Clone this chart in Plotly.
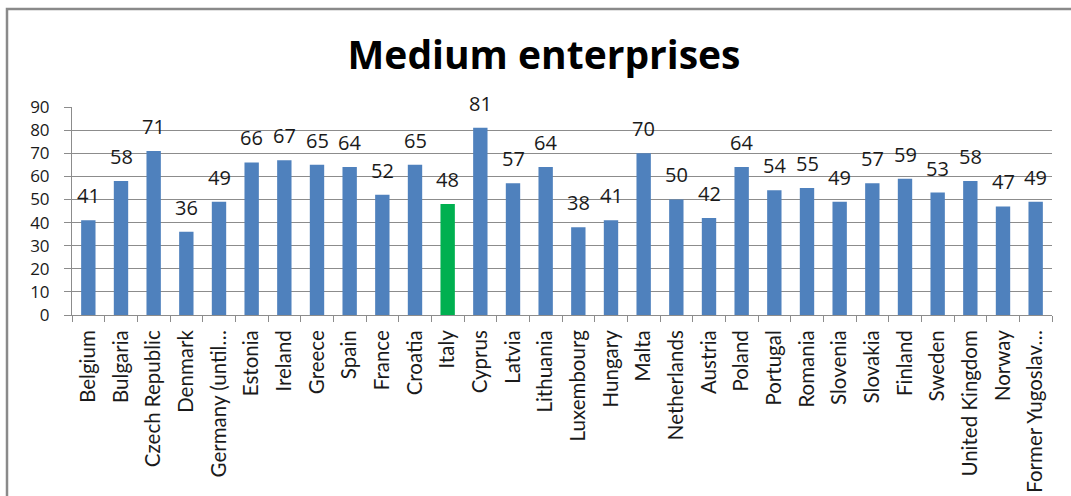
import plotly.graph_objects as go

countries = ["Belgium", "Bulgaria", "Czech Republic", "Denmark", "Germany (until…",
             "Estonia", "Ireland", "Greece", "Spain", "France", "Croatia", "Italy",
             "Cyprus", "Latvia", "Lithuania", "Luxembourg", "Hungary", "Malta",
             "Netherlands", "Austria", "Poland", "Portugal", "Romania", "Slovenia",
             "Slovakia", "Finland", "Sweden", "United Kingdom", "Norway", "Former Yugoslav…"]
values = [41, 58, 71, 36, 49, 66, 67, 65, 64, 52, 65, 48, 81, 57, 64, 38, 41, 70,
          50, 42, 64, 54, 55, 49, 57, 59, 53, 58, 47, 49]
highlight = "Italy"
y_ticks = [0, 10, 20, 30, 40, 50, 60, 70, 80, 90]

BLUE = "#4F81BD"
GREEN = "#00B050"
GRID = "#8C8C8C"

colors = [GREEN if c == highlight else BLUE for c in countries]

fig = go.Figure()
fig.add_trace(go.Bar(x=countries, y=values, marker=dict(color=colors, line=dict(width=0)),
                     width=0.44, hoverinfo="x+y"))

for c, v in zip(countries, values):
    fig.add_annotation(x=c, y=v, text=str(v), showarrow=False, yanchor="bottom",
                       yshift=9, font=dict(family="Open Sans", size=20, color="#1a1a1a"))

L, R, T, B = 72, 1052, 107, 315
W, H = R - L, B - T
def px(x):
    return (x - L) / W
def py(y):
    return (B - y) / H

# outer frame
fig.add_shape(type="rect", xref="paper", yref="paper",
              x0=px(7), x1=px(1080), y0=py(505), y1=py(9),
              line=dict(color="#8A8A8A", width=2.5), fillcolor="rgba(0,0,0,0)", layer="above")

fig.update_layout(
    width=1071, height=496,
    margin=dict(l=L, r=1071 - R, t=T, b=496 - B, pad=0, autoexpand=False),
    paper_bgcolor="white", plot_bgcolor="white",
    title=dict(text="<b>Medium enterprises</b>", x=0.508, xanchor="center",
               y=1 - 55 / 496, yanchor="middle",
               font=dict(family="Open Sans", size=39, color="black")),
    showlegend=False, bargap=0.56,
    xaxis=dict(tickangle=-90, tickfont=dict(family="Lato", size=20.5, color="#1a1a1a"),
               ticks="outside", tickson="boundaries", ticklen=6, tickcolor=GRID,
               ticklabelstandoff=6, automargin=False,
               showline=True, linecolor=GRID, linewidth=1, showgrid=False,
               fixedrange=True),
    yaxis=dict(range=[0, 90], tickvals=y_ticks, showgrid=True, gridcolor=GRID,
               gridwidth=1, ticks="outside", ticklen=7, tickcolor=GRID,
               ticklabelstandoff=11, automargin=False,
               showline=True, linecolor=GRID, linewidth=1, zeroline=False,
               tickfont=dict(family="Open Sans", size=17, color="#1a1a1a"),
               fixedrange=True),
)

fig.write_html("out.html")
